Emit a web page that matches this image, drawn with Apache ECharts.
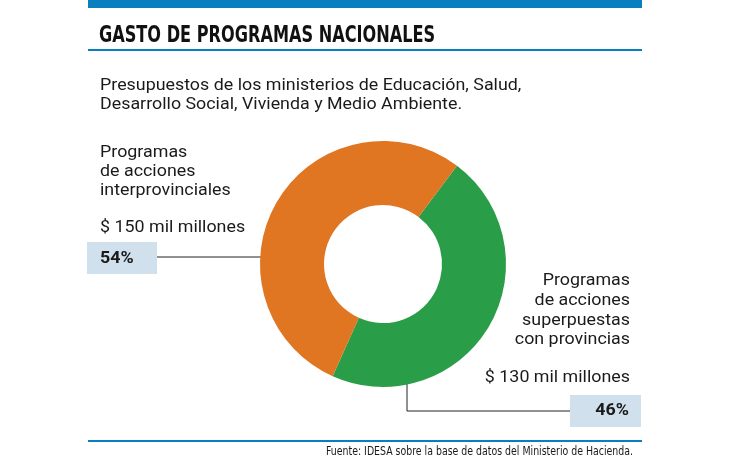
<!DOCTYPE html>
<html>
<head>
<meta charset="utf-8">
<script src="https://cdn.jsdelivr.net/npm/echarts@6/dist/echarts.min.js"></script>
<style>html,body{margin:0;padding:0;background:#fff;}#c{width:730px;height:460px;}</style>
</head>
<body>
<div id="c"></div>
<script>
const categories = ['Programas de acciones superpuestas con provincias', 'Programas de acciones interprovinciales'];
const values = [130, 150];
const amountLabels = ['$ 130 mil millones', '$ 150 mil millones'];
const percentLabels = ['46%', '54%'];
const colors = ['#2a9d48', '#e07522'];

const chart = echarts.init(document.getElementById('c'));
const FONT = 'Roboto, "Noto Sans", sans-serif';
const ink = '#1a1a1a';
function txt(text, x, y, opts) {
  opts = opts || {};
  return {
    type: 'text', x: x, y: y, scaleX: opts.scaleX || 1.05,
    style: {
      text: text, x: 0, y: 0,
      fontSize: opts.size || 17, fontFamily: opts.family || FONT,
      fontWeight: opts.weight || 'normal', fill: opts.fill || ink,
      textAlign: opts.align || 'left', textVerticalAlign: 'middle'
    }
  };
}
const graphics = [
  {type: 'rect', shape: {x: 88, y: 0, width: 554, height: 8}, style: {fill: '#0a7fc0'}},
  txt('GASTO DE PROGRAMAS NACIONALES', 99, 36, {size: 23, weight: 'bold', family: '"DejaVu Sans Condensed", sans-serif', scaleX: 0.78, fill: '#111'}),
  {type: 'rect', shape: {x: 88, y: 49, width: 554, height: 2}, style: {fill: '#0a7fc0'}},
  txt('Presupuestos de los ministerios de Educación, Salud,', 100, 86),
  txt('Desarrollo Social, Vivienda y Medio Ambiente.', 100, 105),
  txt('Programas', 100, 153),
  txt('de acciones', 100, 172),
  txt('interprovinciales', 100, 191),
  txt(amountLabels[1], 100, 228),
  {type: 'rect', shape: {x: 87, y: 242, width: 70, height: 32}, style: {fill: '#d0e0ec'}},
  txt(percentLabels[1], 100, 259, {weight: 'bold'}),
  {type: 'line', shape: {x1: 157, y1: 257, x2: 262, y2: 257}, style: {stroke: '#222', lineWidth: 1}},
  txt('Programas', 630, 281, {align: 'right'}),
  txt('de acciones', 630, 301, {align: 'right'}),
  txt('superpuestas', 630, 321, {align: 'right'}),
  txt('con provincias', 630, 340, {align: 'right'}),
  txt(amountLabels[0], 630, 378, {align: 'right'}),
  {type: 'rect', shape: {x: 570, y: 395, width: 71, height: 32}, style: {fill: '#d0e0ec'}},
  txt(percentLabels[0], 629, 411, {align: 'right', weight: 'bold'}),
  {type: 'polyline', shape: {points: [[407, 384], [407, 411], [570, 411]]}, style: {stroke: '#222', lineWidth: 1, fill: 'none'}},
  {type: 'rect', shape: {x: 88, y: 440, width: 554, height: 2}, style: {fill: '#0a7fc0'}},
  txt('Fuente: IDESA sobre la base de datos del Ministerio de Hacienda.', 633, 452, {size: 12, align: 'right', family: '"DejaVu Sans Condensed", sans-serif', scaleX: 0.87})
];

chart.setOption({
  animation: false,
  backgroundColor: '#fff',
  graphic: graphics,
  series: [{
    type: 'pie',
    center: [383, 264],
    radius: [59, 123],
    startAngle: 53,
    clockwise: true,
    label: {show: false},
    labelLine: {show: false},
    emphasis: {disabled: true},
    data: categories.map((c, i) => ({name: c, value: values[i], itemStyle: {color: colors[i]}}))
  }]
});
</script>
</body>
</html>
